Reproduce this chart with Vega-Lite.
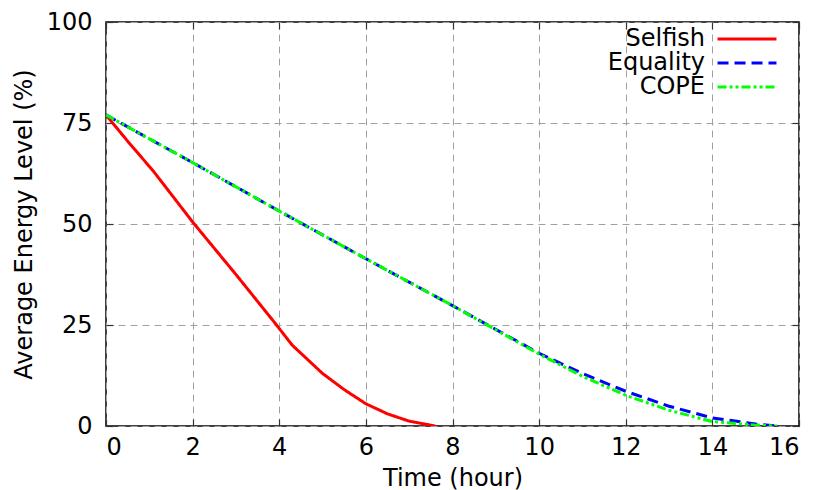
{
  "$schema": "https://vega.github.io/schema/vega-lite/v6.json",
  "width": 693,
  "height": 404,
  "autosize": {"type": "none"},
  "padding": {"left": 106, "top": 22, "right": 19, "bottom": 64},
  "config": {
    "font": "DejaVu Sans",
    "view": {"stroke": "black", "strokeWidth": 1.5},
    "axis": {
      "labelFontSize": 24, "titleFontSize": 24, "labelColor": "black", "titleColor": "black",
      "titleFontWeight": "normal", "labelFont": "DejaVu Sans", "titleFont": "DejaVu Sans",
      "gridColor": "#a0a0a0", "gridDash": [7, 5], "gridWidth": 1,
      "domain": false, "tickColor": "#333333", "tickSize": -7, "tickWidth": 1.2
    }
  },
  "data": {
    "values": [
      {"t": 0, "e": 77, "s": "Selfish"},
      {"t": 0.5, "e": 70.5, "s": "Selfish"},
      {"t": 1.1, "e": 63, "s": "Selfish"},
      {"t": 2, "e": 50.5, "s": "Selfish"},
      {"t": 3, "e": 37.5, "s": "Selfish"},
      {"t": 3.9, "e": 25.5, "s": "Selfish"},
      {"t": 4.3, "e": 20, "s": "Selfish"},
      {"t": 4.7, "e": 16, "s": "Selfish"},
      {"t": 5, "e": 13, "s": "Selfish"},
      {"t": 5.5, "e": 9, "s": "Selfish"},
      {"t": 6, "e": 5.5, "s": "Selfish"},
      {"t": 6.5, "e": 3, "s": "Selfish"},
      {"t": 7, "e": 1.2, "s": "Selfish"},
      {"t": 7.6, "e": 0, "s": "Selfish"},
      {"t": 0, "e": 77, "s": "Equality"},
      {"t": 2, "e": 65.2, "s": "Equality"},
      {"t": 4, "e": 53.2, "s": "Equality"},
      {"t": 6, "e": 41.4, "s": "Equality"},
      {"t": 8, "e": 29.8, "s": "Equality"},
      {"t": 10, "e": 18, "s": "Equality"},
      {"t": 11, "e": 13, "s": "Equality"},
      {"t": 12, "e": 8.6, "s": "Equality"},
      {"t": 13, "e": 4.9, "s": "Equality"},
      {"t": 14, "e": 2, "s": "Equality"},
      {"t": 15, "e": 0.5, "s": "Equality"},
      {"t": 15.5, "e": 0, "s": "Equality"},
      {"t": 0, "e": 77, "s": "COPE"},
      {"t": 2, "e": 65.2, "s": "COPE"},
      {"t": 4, "e": 53.2, "s": "COPE"},
      {"t": 6, "e": 41.4, "s": "COPE"},
      {"t": 8, "e": 29.8, "s": "COPE"},
      {"t": 10, "e": 17.8, "s": "COPE"},
      {"t": 11, "e": 12.3, "s": "COPE"},
      {"t": 12, "e": 7.6, "s": "COPE"},
      {"t": 13, "e": 3.9, "s": "COPE"},
      {"t": 14, "e": 1.1, "s": "COPE"},
      {"t": 15, "e": 0.2, "s": "COPE"},
      {"t": 15.5, "e": 0, "s": "COPE"}
    ]
  },
  "layer": [
    {
      "mark": {"type": "point", "opacity": 0},
      "encoding": {
        "x": {
          "field": "t", "type": "quantitative",
          "scale": {"domain": [0, 16], "nice": false},
          "axis": {"orient": "top", "values": [0, 2, 4, 6, 8, 10, 12, 14, 16], "labels": false, "title": null, "grid": false, "ticks": true, "tickSize": -7, "tickColor": "#333333", "zindex": 2}
        },
        "y": {
          "field": "e", "type": "quantitative",
          "scale": {"domain": [0, 100], "nice": false},
          "axis": {"orient": "right", "values": [0, 25, 50, 75, 100], "labels": false, "title": null, "grid": false, "ticks": true, "tickSize": -7, "tickColor": "#333333", "zindex": 2}
        }
      }
    },
    {
      "mark": {"type": "line", "strokeWidth": 3, "clip": true},
      "encoding": {
        "x": {
          "field": "t", "type": "quantitative", "title": "Time (hour)",
          "scale": {"domain": [0, 16], "nice": false},
          "axis": {"orient": "bottom", "grid": true, "values": [0, 2, 4, 6, 8, 10, 12, 14, 16], "labelPadding": 16, "titlePadding": 7}
        },
        "y": {
          "field": "e", "type": "quantitative", "title": "Average Energy Level (%)",
          "scale": {"domain": [0, 100], "nice": false},
          "axis": {"orient": "left", "grid": true, "values": [0, 25, 50, 75, 100], "labelPadding": 21, "titlePadding": 10}
        },
        "color": {
          "field": "s", "type": "nominal",
          "scale": {"domain": ["Selfish", "Equality", "COPE"], "range": ["#ff0000", "#0000ff", "#00ff00"]},
          "legend": {
            "title": null, "orient": "none", "legendX": 549, "legendY": 5,
            "symbolType": "M-5,0H5", "symbolSize": 139, "symbolStrokeWidth": 3,
            "labelFontSize": 24, "labelColor": "black", "labelAlign": "right", "labelOffset": -54,
            "rowPadding": -5, "symbolOffset": 80
          }
        },
        "strokeDash": {
          "field": "s", "type": "nominal",
          "scale": {"domain": ["Selfish", "Equality", "COPE"], "range": [[1, 0], [11, 6], [9, 3, 3, 3, 3, 3]]},
          "legend": null
        }
      }
    }
  ],
  "resolve": {"axis": {"x": "independent", "y": "independent"}}
}
